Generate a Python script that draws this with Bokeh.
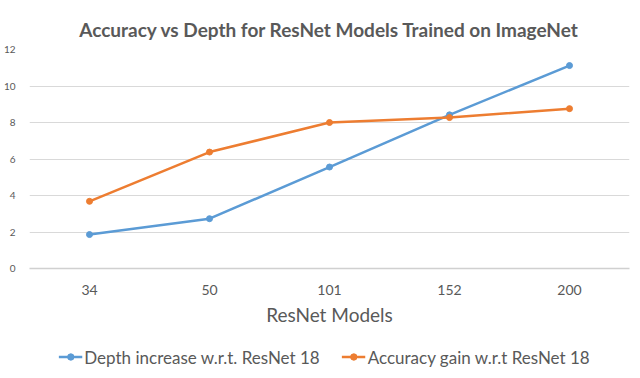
from bokeh.plotting import figure
from bokeh.layouts import column
from bokeh.models import ColumnDataSource, FactorRange, Range1d, Legend, LegendItem, FixedTicker
from bokeh.embed import file_html
from bokeh.resources import INLINE

models = ["34", "50", "101", "152", "200"]
depth_increase = [1.86, 2.73, 5.56, 8.42, 11.12]
accuracy_gain = [3.68, 6.38, 8.0, 8.27, 8.76]
y_ticks = [0, 2, 4, 6, 8, 10, 12]

title_text = "Accuracy vs Depth for ResNet Models Trained on ImageNet"
x_label = "ResNet Models"
series_names = ["Depth increase w.r.t. ResNet 18", "Accuracy gain w.r.t ResNet 18"]
colors = ["#5B9BD5", "#ED7D31"]

FONT = "Lato"
TXT = "#595959"

src = ColumnDataSource(dict(x=models, d=depth_increase, a=accuracy_gain))

p = figure(frame_width=600, frame_height=219, x_range=FactorRange(*models), y_range=Range1d(0, 12),
           output_backend="svg", toolbar_location=None, title=title_text)
p.min_border_left = 19
p.min_border_right = 5
p.min_border_top = 49
p.min_border_bottom = 75
p.outline_line_color = None
p.background_fill_color = "white"
p.border_fill_color = "white"

p.title.align = "center"
p.title.text_font = FONT
p.title.text_font_size = "19px"
p.title.text_font_style = "bold"
p.title.text_color = TXT
p.title.standoff = 17
p.title.offset = -14

r1 = p.line("x", "d", source=src, line_color=colors[0], line_width=2.5)
m1 = p.scatter("x", "d", source=src, size=6, fill_color=colors[0], line_color=colors[0])
r2 = p.line("x", "a", source=src, line_color=colors[1], line_width=2.5)
m2 = p.scatter("x", "a", source=src, size=6, fill_color=colors[1], line_color=colors[1])

p.yaxis.ticker = FixedTicker(ticks=y_ticks)
p.yaxis.axis_line_color = None
p.yaxis.major_tick_line_color = None
p.yaxis.minor_tick_line_color = None
p.yaxis.major_label_text_font = FONT
p.yaxis.major_label_text_font_size = "10px"
p.yaxis.major_label_text_color = TXT
p.yaxis.major_label_standoff = 8

p.xaxis.axis_line_color = "#D0D0D0"
p.xaxis.axis_line_width = 1.5
p.xaxis.major_tick_line_color = None
p.xaxis.minor_tick_line_color = None
p.xaxis.major_label_text_font = FONT
p.xaxis.major_label_text_font_size = "14px"
p.xaxis.major_label_text_color = TXT
p.xaxis.major_label_standoff = 10
p.xaxis.axis_label = x_label
p.xaxis.axis_label_text_font = FONT
p.xaxis.axis_label_text_font_size = "19px"
p.xaxis.axis_label_text_font_style = "normal"
p.xaxis.axis_label_text_color = TXT
p.xaxis.axis_label_standoff = 5

p.xgrid.grid_line_color = None
p.ygrid.grid_line_color = "#D9D9D9"
p.ygrid.grid_line_width = 1.2

# legend strip below the chart
lg = figure(width=624, height=27, x_range=FactorRange(*models), y_range=Range1d(100, 101),
            output_backend="svg", toolbar_location=None, x_axis_type=None, y_axis_type=None)
lg.min_border = 0
lg.outline_line_color = None
lg.grid.grid_line_color = None
lr1 = lg.line("x", "d", source=src, line_color=colors[0], line_width=2.5)
lm1 = lg.scatter("x", "d", source=src, size=6, fill_color=colors[0], line_color=colors[0])
lr2 = lg.line("x", "a", source=src, line_color=colors[1], line_width=2.5)
lm2 = lg.scatter("x", "a", source=src, size=6, fill_color=colors[1], line_color=colors[1])

legend = Legend(items=[LegendItem(label=series_names[0], renderers=[lr1, lm1]),
                       LegendItem(label=series_names[1], renderers=[lr2, lm2])],
                orientation="horizontal", location="center")
legend.label_text_font = FONT
legend.label_text_font_size = "17px"
legend.label_text_color = TXT
legend.glyph_width = 24
legend.glyph_height = 16
legend.label_height = 16
legend.label_standoff = 2
legend.spacing = 22
legend.border_line_color = None
legend.background_fill_alpha = 0
legend.margin = 0
legend.padding = 0
lg.add_layout(legend, "center")

layout = column(p, lg, spacing=0)
open("out.html", "w").write(file_html(layout, INLINE))
